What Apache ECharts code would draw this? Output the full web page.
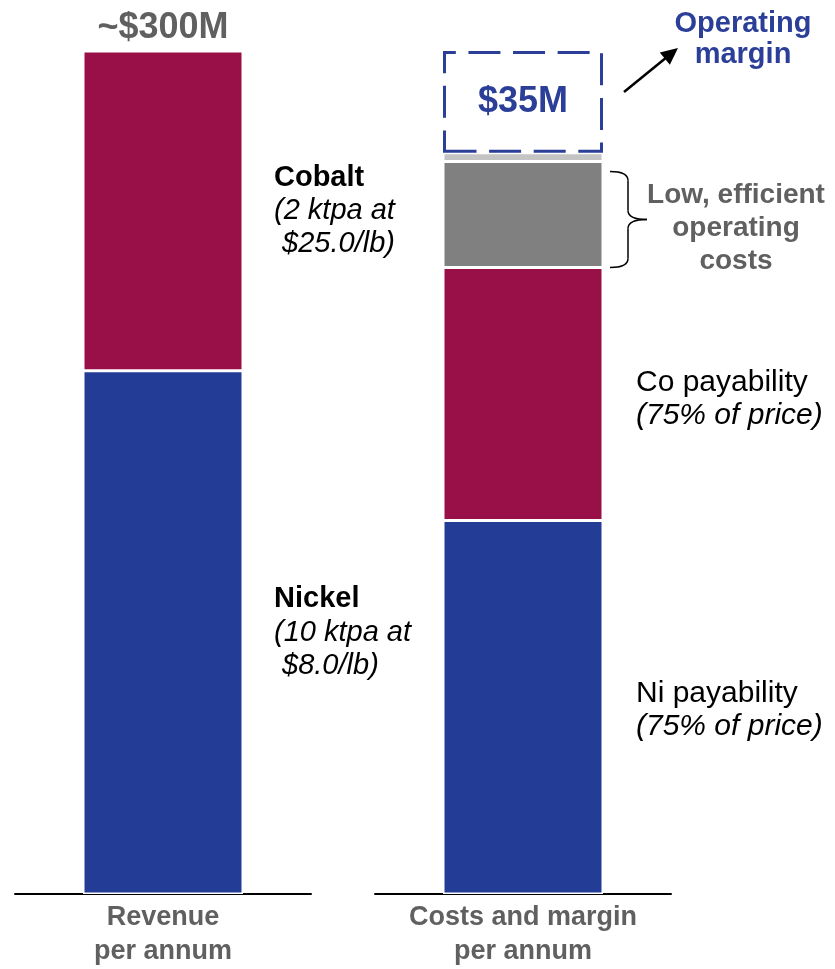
<!DOCTYPE html>
<html>
<head>
<meta charset="utf-8">
<script src="https://cdn.jsdelivr.net/npm/echarts@6/dist/echarts.min.js"></script>
<style>
  html, body { margin: 0; padding: 0; background: #ffffff; }
  #chart { width: 835px; height: 969px; }
</style>
</head>
<body>
<div id="chart"></div>
<script>
// Categories (one per panel)
const revenueCategory = ['Revenue\nper annum'];
const costCategory = ['Costs and margin\nper annum'];

// Revenue per annum, $M
const revenueNickel = [180];
const revenueCobalt = [110];
const revenueTotalText = ['~$300M'];

// Costs and margin per annum, $M
const costNiPayability = [128.5];
const costCoPayability = [87];
const costOperating = [36.5];
const costOther = [3];
const operatingMargin = [35];

const FONT = '"Liberation Sans", Arial, sans-serif';
const BLUE = '#233C96';
const MAGENTA = '#990F47';
const GREY = '#808080';
const LIGHT_GREY = '#C4C4C4';
const TEXT_GREY = '#606060';
const NAVY_TEXT = '#2B3F98';

const chart = echarts.init(document.getElementById('chart'));

const segmentStyle = (color) => ({ color: color, borderColor: '#ffffff', borderWidth: 1.5 });

const axisX = (gridIndex, data) => ({
  type: 'category',
  gridIndex: gridIndex,
  data: data,
  axisLine: { show: true, lineStyle: { color: '#000000', width: 2 } },
  axisTick: { show: false },
  axisLabel: {
    interval: 0,
    margin: 7,
    color: TEXT_GREY,
    fontFamily: FONT,
    fontWeight: 'bold',
    fontSize: 27,
    lineHeight: 34
  }
});

const axisY = (gridIndex) => ({
  type: 'value',
  gridIndex: gridIndex,
  min: 0,
  max: 300,
  show: false,
  splitLine: { show: false }
});

const sideLabel = (formatter, size, extra) => Object.assign({
  show: true,
  position: 'right',
  distance: 31,
  align: 'left',
  formatter: formatter,
  rich: {
    b: { fontFamily: FONT, fontSize: size, fontWeight: 'bold', color: '#000000', lineHeight: 34 },
    i: { fontFamily: FONT, fontSize: size, fontStyle: 'italic', color: '#000000', lineHeight: 33 },
    n: { fontFamily: FONT, fontSize: size, color: '#000000', lineHeight: 33 }
  }
}, extra || {});

const option = {
  backgroundColor: '#ffffff',
  animation: false,
  grid: [
    { left: 15, width: 296, top: 22, bottom: 74 },
    { left: 375, width: 296, top: 22, bottom: 74 }
  ],
  xAxis: [axisX(0, revenueCategory), axisX(1, costCategory)],
  yAxis: [axisY(0), axisY(1)],
  series: [
    {
      name: 'Nickel',
      type: 'bar',
      xAxisIndex: 0, yAxisIndex: 0,
      stack: 'revenue',
      barWidth: 160,
      data: revenueNickel,
      itemStyle: segmentStyle(BLUE),
      label: sideLabel('{b|Nickel}\n{i|(10 ktpa at}\n{i| $8.0/lb)}', 29)
    },
    {
      name: 'Cobalt',
      type: 'bar',
      xAxisIndex: 0, yAxisIndex: 0,
      stack: 'revenue',
      barWidth: 160,
      data: revenueCobalt,
      itemStyle: segmentStyle(MAGENTA),
      label: sideLabel('{b|Cobalt}\n{i|(2 ktpa at}\n{i| $25.0/lb)}', 29)
    },
    {
      name: 'Revenue total',
      type: 'bar',
      xAxisIndex: 0, yAxisIndex: 0,
      stack: 'revenue',
      barWidth: 160,
      data: revenueTotalText.map(() => 0),
      itemStyle: { color: 'transparent' },
      label: {
        show: true,
        position: 'top',
        distance: 5,
        formatter: () => revenueTotalText[0],
        fontFamily: FONT,
        fontWeight: 'bold',
        fontSize: 36,
        color: TEXT_GREY
      }
    },
    {
      name: 'Ni payability',
      type: 'bar',
      xAxisIndex: 1, yAxisIndex: 1,
      stack: 'costs',
      barWidth: 160,
      data: costNiPayability,
      itemStyle: segmentStyle(BLUE),
      label: sideLabel('{n|Ni payability}\n{i|(75% of price)}', 30, { distance: 33, offset: [0, 3] })
    },
    {
      name: 'Co payability',
      type: 'bar',
      xAxisIndex: 1, yAxisIndex: 1,
      stack: 'costs',
      barWidth: 160,
      data: costCoPayability,
      itemStyle: segmentStyle(MAGENTA),
      label: sideLabel('{n|Co payability}\n{i|(75% of price)}', 30, { distance: 33, offset: [0, 5] })
    },
    {
      name: 'Operating costs',
      type: 'bar',
      xAxisIndex: 1, yAxisIndex: 1,
      stack: 'costs',
      barWidth: 160,
      data: costOperating,
      itemStyle: segmentStyle(GREY),
      label: {
        show: true,
        position: 'right',
        distance: 133,
        align: 'center',
        offset: [0, 14],
        formatter: 'Low, efficient\noperating\ncosts',
        fontFamily: FONT,
        fontWeight: 'bold',
        fontSize: 28,
        lineHeight: 33,
        color: TEXT_GREY
      }
    },
    {
      name: 'Other costs',
      type: 'bar',
      xAxisIndex: 1, yAxisIndex: 1,
      stack: 'costs',
      barWidth: 160,
      data: costOther,
      itemStyle: segmentStyle(LIGHT_GREY)
    },
    {
      name: 'Operating margin',
      type: 'bar',
      xAxisIndex: 1, yAxisIndex: 1,
      stack: 'costs',
      barWidth: 160,
      data: operatingMargin,
      z: 3,
      itemStyle: {
        color: 'rgba(255,255,255,0)',
        borderColor: NAVY_TEXT,
        borderWidth: 3,
        borderType: [32, 12.6]
      },
      label: {
        show: true,
        position: 'inside',
        formatter: (p) => '$' + p.value + 'M',
        fontFamily: FONT,
        fontWeight: 'bold',
        fontSize: 36,
        color: NAVY_TEXT
      }
    }
  ]
};

chart.setOption(option);

// Annotations placed from the bar geometry of the costs panel
const costName = costCategory[0];
const halfBar = 80;
const sumTo = (arrs) => arrs.reduce((s, a) => s + a[0], 0);
const opBottom = sumTo([costNiPayability, costCoPayability]);
const opTop = opBottom + costOperating[0];
const marginBottom = opTop + costOther[0];
const marginTop = marginBottom + operatingMargin[0];

const pBarOpBottom = chart.convertToPixel({ gridIndex: 1 }, [costName, opBottom]);
const pBarOpTop = chart.convertToPixel({ gridIndex: 1 }, [costName, opTop]);
const pMarginBottom = chart.convertToPixel({ gridIndex: 1 }, [costName, marginBottom]);
const pMarginTop = chart.convertToPixel({ gridIndex: 1 }, [costName, marginTop]);

const barRight = pBarOpTop[0] + halfBar;

// Curly brace next to the operating-cost segment
const bx0 = barRight + 7;
const bx1 = bx0 + 18;
const bx2 = bx0 + 37;
const by0 = pBarOpTop[1] + 10;
const by1 = pBarOpBottom[1];
const bmid = (by0 + by1) / 2;
const braceStyle = { fill: null, stroke: '#000000', lineWidth: 1.5 };
const braceParts = [
  { type: 'bezierCurve', shape: { x1: bx0, y1: by0, cpx1: bx1, cpy1: by0, x2: bx1, y2: by0 + 9 } },
  { type: 'line', shape: { x1: bx1, y1: by0 + 9, x2: bx1, y2: bmid - 9 } },
  { type: 'bezierCurve', shape: { x1: bx1, y1: bmid - 9, cpx1: bx1, cpy1: bmid, x2: bx2, y2: bmid } },
  { type: 'bezierCurve', shape: { x1: bx2, y1: bmid, cpx1: bx1, cpy1: bmid, x2: bx1, y2: bmid + 9 } },
  { type: 'line', shape: { x1: bx1, y1: bmid + 9, x2: bx1, y2: by1 - 9 } },
  { type: 'bezierCurve', shape: { x1: bx1, y1: by1 - 9, cpx1: bx1, cpy1: by1, x2: bx0, y2: by1 } }
].map((el) => Object.assign(el, { style: braceStyle, silent: true }));

// Arrow pointing from the margin box to its caption
const ax0 = barRight + 21;
const ay0 = (pMarginTop[1] + pMarginBottom[1]) / 2 - 10;
const ax1 = ax0 + 54;
const ay1 = ay0 - 44;
const ang = Math.atan2(ay1 - ay0, ax1 - ax0);
const headLen = 17, headHalf = 8;
const hbx = ax1 - headLen * Math.cos(ang);
const hby = ay1 - headLen * Math.sin(ang);
const nx = -Math.sin(ang), ny = Math.cos(ang);

chart.setOption({
  graphic: braceParts.concat([
    {
      type: 'line',
      shape: { x1: ax0, y1: ay0, x2: hbx + 2 * Math.cos(ang), y2: hby + 2 * Math.sin(ang) },
      style: { stroke: '#000000', lineWidth: 2.5 }
    },
    {
      type: 'polygon',
      shape: { points: [[ax1, ay1], [hbx + nx * headHalf, hby + ny * headHalf], [hbx - nx * headHalf, hby - ny * headHalf]] },
      style: { fill: '#000000' }
    },
    {
      type: 'text',
      x: 743,
      y: pMarginTop[1] - 43,
      style: {
        text: 'Operating\nmargin',
        fill: NAVY_TEXT,
        font: 'bold 29px ' + FONT,
        lineHeight: 31,
        align: 'center',
        verticalAlign: 'top'
      }
    }
  ])
});
</script>
</body>
</html>
